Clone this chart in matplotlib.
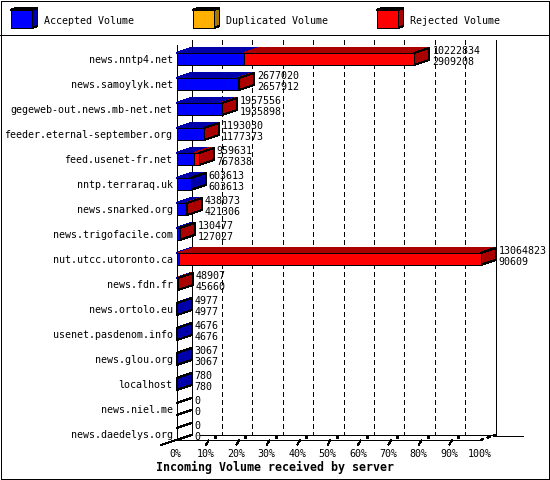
import matplotlib
matplotlib.use("Agg")
import matplotlib.pyplot as plt
from matplotlib.patches import Polygon, Rectangle

servers = ["news.nntp4.net", "news.samoylyk.net", "gegeweb-out.news.mb-net.net",
           "feeder.eternal-september.org", "feed.usenet-fr.net", "nntp.terraraq.uk",
           "news.snarked.org", "news.trigofacile.com", "nut.utcc.utoronto.ca",
           "news.fdn.fr", "news.ortolo.eu", "usenet.pasdenom.info", "news.glou.org",
           "localhost", "news.niel.me", "news.daedelys.org"]
total_volume = [10222834, 2677020, 1957556, 1193030, 959631, 603613, 438073, 130477,
                13064823, 48907, 4977, 4676, 3067, 780, 0, 0]
accepted_volume = [2909208, 2657912, 1935898, 1177373, 767838, 603613, 421306, 127027,
                   90609, 45660, 4977, 4676, 3067, 780, 0, 0]
legend_labels = ["Accepted Volume", "Duplicated Volume", "Rejected Volume"]
pct_ticks = [0, 10, 20, 30, 40, 50, 60, 70, 80, 90, 100]
title = "Incoming Volume received by server"

BLUE, DBLUE = "#0000ff", "#0000aa"
RED, DRED = "#ff0000", "#aa0000"
YEL, DYEL = "#ffb000", "#aa7800"
FONT = "DejaVu Sans Mono"
LW = 0.72
FS = 7.2

W, H = 550, 480
fig = plt.figure(figsize=(W / 100, H / 100), dpi=100, facecolor="white")

# pixel-coordinate overlay for frame and legend
ov = fig.add_axes([0, 0, 1, 1], zorder=0)
ov.set_xlim(0, W); ov.set_ylim(H, 0); ov.axis("off")

# data axes: x in percent, y in row index
PX = 3.04   # px per percent
ROW = 25.0  # px per row
L, R, T, B = 176.5, 480.5, 45, 440
ax = fig.add_axes([L / W, 1 - B / H, (R - L) / W, (B - T) / H], zorder=1)
ax.set_xlim(0, 100)
ax.set_ylim((B - 59) / ROW, (T - 59) / ROW)
ax.axis("off")
ax.patch.set_alpha(0)
dx, dy = 15 / PX, 5 / ROW
hb = 6 / ROW
top_row, bot_row = ax.get_ylim()[1], ax.get_ylim()[0]
TXT = 1 / ROW  # text nudge


def poly(a, pts, fc, z=3, ec="black"):
    a.add_patch(Polygon(pts, closed=True, fc=fc, ec=ec, lw=LW, antialiased=False,
                        zorder=z, clip_on=False))


def line(a, xs, ys, z=2, ls="-", lw=LW):
    a.plot(xs, ys, color="black", lw=lw, ls=ls, antialiased=False, zorder=z,
           clip_on=False, solid_capstyle="butt", scalex=False, scaley=False)


# walls and grid
line(ax, [0, 0], [top_row, bot_row])
line(ax, [dx, dx], [top_row - dy, bot_row - dy])
line(ax, [100 + dx, 100 + dx], [top_row - dy, bot_row - dy])
for p in pct_ticks[1:-1]:
    line(ax, [p + dx, p + dx], [top_row - dy, bot_row - dy], z=1, ls=(0, (5, 3)))
line(ax, [0, 100], [bot_row, bot_row])
line(ax, [dx + 8 / PX, 100 + dx], [bot_row - dy, bot_row - dy])
poly(ov, [(495, 435.5), (523, 435.5), (523, 436), (495, 436)], "black")
line(ax, [-16 / PX, 0], [bot_row + dy, bot_row])
line(ax, [100, 100 + dx], [bot_row, bot_row - dy], ls=(0, (4, 3)))
for p in pct_ticks:
    if 0 < p < 100:
        line(ax, [p - 1 / PX, p + 2 / PX], [bot_row + dy, bot_row], lw=0.8)
        line(ax, [p + 7 / PX, p + 9 / PX], [bot_row - 0.12, bot_row - 0.12], lw=2.0)
    ax.text(p - 1 / PX, bot_row + 13 / ROW + TXT, f"{p}%", family=FONT, fontsize=FS,
            ha="center", va="center", zorder=6, clip_on=False)

# bars and labels
vmax = max(total_volume)
for i, (name, tot, acc) in enumerate(zip(servers, total_volume, accepted_volume)):
    a = 100 * acc / vmax
    t = 100 * tot / vmax
    y0, y1 = i - hb, i + hb
    z = 3
    if tot == 0:
        line(ax, [0, dx], [y0, y0 - dy], z=z)
        line(ax, [0, dx], [y1, y1 - dy], z=z)
    else:
        poly(ax, [(0, y0), (a, y0), (a + dx, y0 - dy), (dx, y0 - dy)], DBLUE, z, ec=DBLUE)
        if t > a:
            poly(ax, [(a, y0), (t, y0), (t + dx, y0 - dy), (a + dx, y0 - dy)], DRED, z, ec=DRED)
        poly(ax, [(t, y0), (t + dx, y0 - dy), (t + dx, y1 - dy), (t, y1)],
             DRED if t > a else DBLUE, z)
        poly(ax, [(0, y0), (a, y0), (a, y1), (0, y1)], BLUE, z)
        if t > a:
            poly(ax, [(a, y0), (t, y0), (t, y1), (a, y1)], RED, z)
    ax.text(-4 / PX, i + TXT, name, family=FONT, fontsize=FS, ha="right", va="center",
            zorder=6, clip_on=False)
    xl = t + (15 + 3) / PX
    ax.text(xl, i - 9 / ROW + TXT, str(tot), family=FONT, fontsize=FS, ha="left", va="center",
            zorder=6, clip_on=False)
    ax.text(xl, i + 2 / ROW + TXT, str(acc), family=FONT, fontsize=FS, ha="left", va="center",
            zorder=6, clip_on=False)

# title
ax.text((274.5 - L) / PX, bot_row + 27 / ROW, title, family=FONT, weight="bold", fontsize=8.4,
        ha="center", va="center", zorder=6, clip_on=False)

# frame
ov.add_patch(Rectangle((1, 1), W - 2, H - 2, fc="none", ec="black", lw=0.72, antialiased=False,
                       clip_on=False, zorder=5))
line(ov, [0, W], [35, 35])

# legend
for lx, lab, c, dc in zip([10.5, 192.5, 376.5], legend_labels, [BLUE, YEL, RED], [DBLUE, DYEL, DRED]):
    poly(ov, [(lx, 10), (lx + 21, 10), (lx + 27, 8), (lx + 6, 8)], dc)
    poly(ov, [(lx + 21, 10), (lx + 27, 8), (lx + 27, 26), (lx + 21, 28)], dc)
    poly(ov, [(lx, 10), (lx + 21, 10), (lx + 21, 28), (lx, 28)], c)
    ov.text(lx + 33.5, 21, lab, family=FONT, fontsize=FS, ha="left", va="center")

fig.savefig("out.png", dpi=100)
